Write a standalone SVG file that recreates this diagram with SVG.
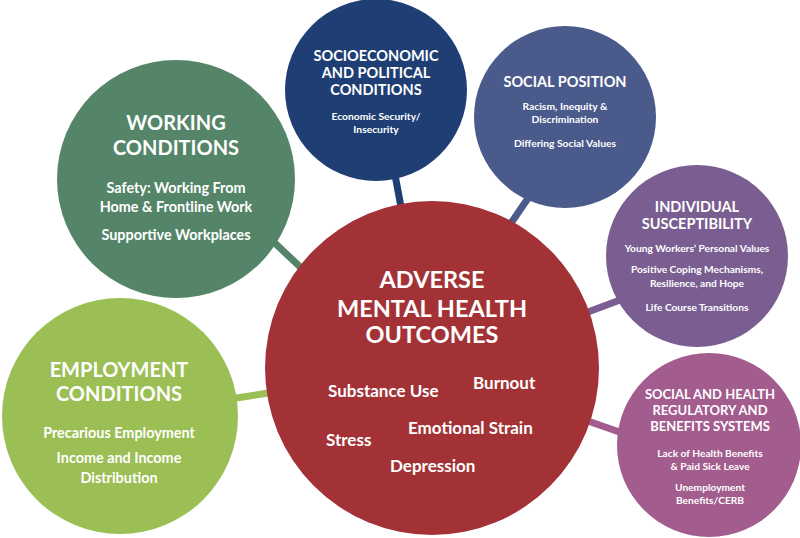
<svg xmlns="http://www.w3.org/2000/svg" width="800" height="538" viewBox="0 0 800 538">
<style>
text{font-family:Lato,"Liberation Sans",sans-serif;font-weight:bold;fill:#fff;text-anchor:middle}
.h{font-size:20px}
.hc{font-size:23.5px}
.hm{font-size:14.5px}
.hs{font-size:13px}
.b{font-size:14.4px}
.bs{font-size:10.3px}
.bx{font-size:10.2px}
.it{font-size:17px;text-anchor:start}
.ln{stroke-width:7;fill:none}
</style>
<rect width="800" height="538" fill="#fff"/>
<g id="connectors">
<line class="ln" x1="260" y1="229" x2="315" y2="281" stroke="#558568"/>
<line class="ln" x1="395" y1="175" x2="402" y2="212" stroke="#1f3f74"/>
<line class="ln" x1="533" y1="191" x2="507" y2="229" stroke="#4a5a8b"/>
<line class="ln" x1="580" y1="315" x2="628" y2="297" stroke="#7a5e91"/>
<line class="ln" x1="585" y1="420" x2="628" y2="435" stroke="#a35c8e"/>
<line class="ln" x1="230" y1="399" x2="275" y2="392" stroke="#9bbe55"/>
</g>
<g id="working">
<circle cx="176" cy="179" r="119" fill="#558568"/>
<text class="h" x="176" y="130">WORKING</text>
<text class="h" x="176" y="155">CONDITIONS</text>
<text class="b" x="176" y="193">Safety: Working From</text>
<text class="b" x="176" y="212">Home &amp; Frontline Work</text>
<text class="b" x="176" y="240">Supportive Workplaces</text>
</g>
<g id="employment">
<circle cx="120" cy="416" r="118" fill="#9bbe55"/>
<text class="h" x="119" y="377">EMPLOYMENT</text>
<text class="h" x="119" y="401">CONDITIONS</text>
<text class="b" x="119" y="438">Precarious Employment</text>
<text class="b" x="119" y="463">Income and Income</text>
<text class="b" x="119" y="483">Distribution</text>
</g>
<g id="socioeconomic">
<circle cx="376" cy="90" r="91" fill="#1f3f74"/>
<text class="hm" x="376" y="61">SOCIOECONOMIC</text>
<text class="hm" x="376" y="78">AND POLITICAL</text>
<text class="hm" x="376" y="95">CONDITIONS</text>
<text class="bs" x="376" y="120">Economic Security/</text>
<text class="bs" x="376" y="133">Insecurity</text>
</g>
<g id="social-position">
<circle cx="565" cy="117" r="91" fill="#4a5a8b"/>
<text class="hm" x="565" y="87">SOCIAL POSITION</text>
<text class="bs" x="565" y="110">Racism, Inequity &amp;</text>
<text class="bs" x="565" y="123">Discrimination</text>
<text class="bs" x="565" y="147">Differing Social Values</text>
</g>
<g id="individual">
<circle cx="697" cy="256" r="91" fill="#7a5e91"/>
<text class="hm" x="697" y="212">INDIVIDUAL</text>
<text class="hm" x="697" y="229">SUSCEPTIBILITY</text>
<text class="bx" x="697" y="252">Young Workers’ Personal Values</text>
<text class="bx" x="697" y="273">Positive Coping Mechanisms,</text>
<text class="bx" x="697" y="287">Resilience, and Hope</text>
<text class="bx" x="697" y="311">Life Course Transitions</text>
</g>
<g id="regulatory">
<circle cx="709" cy="445" r="92" fill="#a35c8e"/>
<text class="hs" x="710" y="399">SOCIAL AND HEALTH</text>
<text class="hs" x="710" y="415">REGULATORY AND</text>
<text class="hs" x="710" y="431">BENEFITS SYSTEMS</text>
<text class="bx" x="710" y="457">Lack of Health Benefits</text>
<text class="bx" x="710" y="470">&amp; Paid Sick Leave</text>
<text class="bx" x="710" y="491">Unemployment</text>
<text class="bx" x="710" y="504">Benefits/CERB</text>
</g>
<g id="outcomes">
<circle cx="432" cy="368" r="167" fill="#a33236"/>
<text class="hc" x="432" y="288">ADVERSE</text>
<text class="hc" x="432" y="317">MENTAL HEALTH</text>
<text class="hc" x="432" y="343">OUTCOMES</text>
<text class="it" x="328" y="397">Substance Use</text>
<text class="it" x="473" y="389">Burnout</text>
<text class="it" x="408" y="434">Emotional Strain</text>
<text class="it" x="326" y="446">Stress</text>
<text class="it" x="390" y="472">Depression</text>
</g>
</svg>
